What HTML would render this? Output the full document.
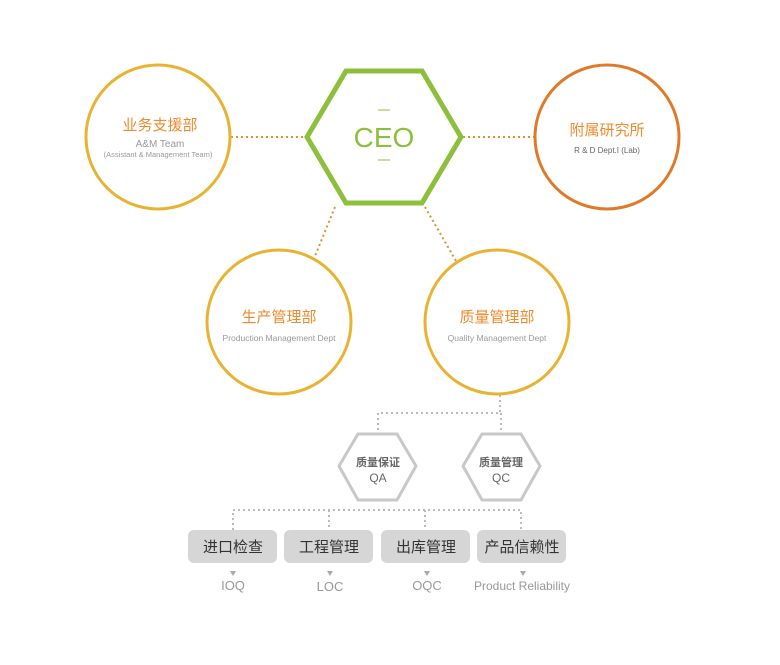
<!DOCTYPE html>
<html><head><meta charset="utf-8"><style>
body{margin:0;background:#fff}
svg text{font-family:"Liberation Sans","Noto Sans CJK SC",sans-serif}
</style></head><body>
<svg width="780" height="660" viewBox="0 0 780 660" xmlns="http://www.w3.org/2000/svg">
<g stroke-dasharray="2 3" stroke-width="2" fill="none">
<line x1="231" y1="137" x2="305" y2="137" stroke="#e0902f"/>
<line x1="463" y1="137" x2="535" y2="137" stroke="#e0902f"/>
<line x1="335" y1="207" x2="315" y2="256" stroke="#e0902f"/>
<line x1="425" y1="207" x2="456" y2="261" stroke="#e0902f"/>
<polyline points="500,395 500,413 378,413 378,432" stroke="#bbb"/>
<line x1="501" y1="413" x2="501" y2="432" stroke="#bbb"/>
<polyline points="233,530 233,510 521,510 521,530" stroke="#bbb"/>
<line x1="329" y1="510" x2="329" y2="530" stroke="#bbb"/>
<line x1="425" y1="510" x2="425" y2="530" stroke="#bbb"/>
</g>
<circle cx="158" cy="137" r="72" fill="#fff" stroke="#e8b332" stroke-width="3"/>
<circle cx="607" cy="137" r="72" fill="#fff" stroke="#e07a28" stroke-width="3"/>
<circle cx="279" cy="322" r="72" fill="#fff" stroke="#e8b332" stroke-width="3"/>
<circle cx="497" cy="322" r="72" fill="#fff" stroke="#e8b332" stroke-width="3"/>
<polygon points="307,137 346,71 422,71 461,137 422,203 346,203" fill="#fff" stroke="#8cc03c" stroke-width="5"/>
<line x1="378" y1="110" x2="390" y2="110" stroke="#8cc03c" stroke-width="1"/>
<line x1="378" y1="160" x2="390" y2="160" stroke="#8cc03c" stroke-width="1"/>
<text x="384" y="147" font-size="28" fill="#8cc03c" text-anchor="middle">CEO</text>
<g text-anchor="middle">
<text x="160" y="130" font-size="15" fill="#f08a2c">业务支援部</text>
<text x="160" y="147" font-size="10" fill="#999">A&amp;M Team</text>
<text x="158" y="157" font-size="7.5" fill="#999">(Assistant &amp; Management Team)</text>
<text x="607" y="135" font-size="15" fill="#f08a2c">附属研究所</text>
<text x="607" y="153" font-size="8" fill="#666">R &amp; D Dept.I (Lab)</text>
<text x="279" y="322" font-size="15" fill="#f08a2c">生产管理部</text>
<text x="279" y="341" font-size="8.5" fill="#999">Production Management Dept</text>
<text x="497" y="322" font-size="15" fill="#f08a2c">质量管理部</text>
<text x="497" y="341" font-size="8.5" fill="#999">Quality Management Dept</text>
</g>
<polygon points="339,466 358,434 397,434 416,466 397,500 358,500" fill="#fff" stroke="#c8c8c8" stroke-width="3"/>
<polygon points="463,466 482,434 521,434 540,466 521,500 482,500" fill="#fff" stroke="#c8c8c8" stroke-width="3"/>
<g text-anchor="middle" fill="#666">
<text x="378" y="466" font-size="11" font-weight="bold">质量保证</text>
<text x="378" y="482" font-size="12">QA</text>
<text x="501" y="466" font-size="11" font-weight="bold">质量管理</text>
<text x="501" y="482" font-size="12">QC</text>
</g>
<g fill="#d6d6d6">
<rect x="188" y="530" width="89" height="33" rx="6"/>
<rect x="284" y="530" width="89" height="33" rx="6"/>
<rect x="381" y="530" width="89" height="33" rx="6"/>
<rect x="477" y="530" width="89" height="33" rx="6"/>
</g>
<g text-anchor="middle" font-size="15" fill="#333">
<text x="233" y="552">进口检查</text>
<text x="329" y="552">工程管理</text>
<text x="426" y="552">出库管理</text>
<text x="522" y="552">产品信赖性</text>
</g>
<g fill="#aaa">
<polygon points="230,571 236,571 233,576"/>
<polygon points="327,571 333,571 330,576"/>
<polygon points="424,571 430,571 427,576"/>
<polygon points="520,571 526,571 523,576"/>
</g>
<g text-anchor="middle" font-size="13" fill="#999">
<text x="233" y="590">IOQ</text>
<text x="330" y="591">LOC</text>
<text x="427" y="590">OQC</text>
<text x="522" y="590" font-size="12">Product Reliability</text>
</g>
</svg>
</body></html>
